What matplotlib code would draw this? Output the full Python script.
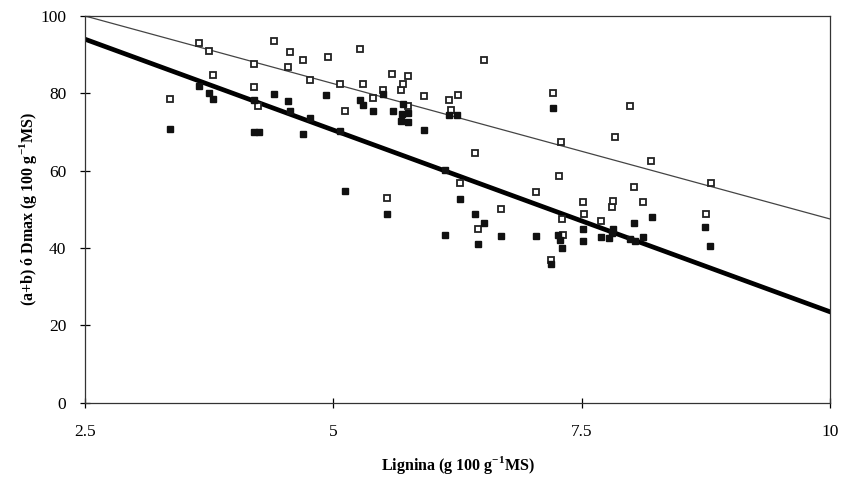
import matplotlib
matplotlib.use("Agg")
import matplotlib.pyplot as plt
import numpy as np

plt.rcParams['font.family'] = ['Liberation Serif', 'DejaVu Serif']

# Open squares: (a+b)
open_x = [3.36, 3.65, 3.75, 3.79, 4.20, 4.20, 4.24, 4.40, 4.54, 4.56, 4.69, 4.76,
          4.95, 5.07, 5.12, 5.27, 5.30, 5.40, 5.50, 5.59, 5.68, 5.70, 5.75, 5.75,
          5.91, 6.16, 6.18, 6.25, 6.42, 6.52, 6.27, 5.54, 6.46, 6.69, 7.04, 7.19,
          7.21, 7.27, 7.29, 7.30, 7.31, 7.51, 7.52, 7.69, 7.80, 7.81, 7.83, 7.98,
          8.02, 8.12, 8.20, 8.75, 8.80]
open_y = [78.6, 93.0, 90.9, 84.8, 87.5, 81.7, 76.7, 93.5, 86.9, 90.6, 88.6, 83.4,
          89.5, 82.4, 75.5, 91.5, 82.4, 78.7, 80.9, 84.9, 80.8, 82.3, 84.5, 76.7,
          79.3, 78.4, 75.7, 79.6, 64.6, 88.5, 56.8, 53.0, 44.8, 50.0, 54.6, 36.8,
          80.0, 58.5, 67.3, 47.6, 43.4, 51.8, 48.8, 47.1, 50.6, 52.1, 68.7, 76.8,
          55.7, 52.0, 62.5, 48.8, 56.7]

# Filled squares: Dmax
fill_x = [3.36, 3.65, 3.75, 3.79, 4.20, 4.20, 4.25, 4.40, 4.54, 4.56, 4.69, 4.76,
          4.93, 5.07, 5.12, 5.27, 5.30, 5.40, 5.50, 5.54, 5.60, 5.70, 5.69, 5.75,
          5.68, 5.75, 5.91, 6.12, 6.12, 6.16, 6.24, 6.27, 6.42, 6.46, 6.52, 6.69,
          7.04, 7.19, 7.21, 7.26, 7.28, 7.30, 7.51, 7.51, 7.69, 7.77, 7.80, 7.81,
          8.02, 7.98, 8.03, 8.12, 8.21, 8.74, 8.79]
fill_y = [70.9, 81.9, 80.2, 78.6, 78.4, 69.9, 69.9, 79.8, 77.9, 75.5, 69.6, 73.6,
          79.6, 70.2, 54.7, 78.4, 76.9, 75.5, 79.9, 48.8, 75.5, 77.3, 74.6, 74.8,
          72.8, 72.5, 70.4, 60.2, 43.3, 74.3, 74.4, 52.6, 48.8, 41.1, 46.4, 43.2,
          43.2, 36.0, 76.2, 43.4, 42.0, 40.1, 45.0, 41.8, 42.9, 42.6, 43.8, 45.0,
          46.6, 42.3, 41.9, 42.8, 48.0, 45.5, 40.6]

# Regression lines (intercept, slope)
thin_line = (117.5, -7.0)
thick_line = (117.5, -9.4)

x_ticks = [2.5, 5, 7.5, 10]
x_ticklabels = ["2.5", "5", "7.5", "10"]
y_ticks = [0, 20, 40, 60, 80, 100]

fig = plt.figure(figsize=(8.49, 4.83), dpi=100)
ax = fig.add_axes([0.1, 0.166, 0.878, 0.801])

xl = np.array([2.5, 10])
ax.plot(xl, thin_line[0] + thin_line[1] * xl, color='#444444', lw=0.9, zorder=2)
ax.plot(xl, thick_line[0] + thick_line[1] * xl, color='black', lw=3.4, zorder=2)

ax.plot(open_x, open_y, linestyle='none', marker='s', markersize=4.8,
        markerfacecolor='white', markeredgecolor='#222222', markeredgewidth=1.3, zorder=3)
ax.plot(fill_x, fill_y, linestyle='none', marker='s', markersize=4.8,
        markerfacecolor='#111111', markeredgecolor='#111111', zorder=4)

ax.set_xlim(2.5, 10)
ax.set_ylim(0, 100)
ax.set_xticks(x_ticks)
ax.set_xticklabels(x_ticklabels)
ax.set_yticks(y_ticks)
ax.tick_params(direction='inout', length=7, width=0.9, labelsize=12.5)
ax.tick_params(axis='x', pad=12)
ax.tick_params(axis='y', pad=10)
for s in ax.spines.values():
    s.set_linewidth(0.9)
    s.set_color('#333333')

ax.set_xlabel("Lignina (g 100 g$^{\\mathregular{-1}}$MS)", fontsize=11.5, fontweight='bold', labelpad=10)
ax.set_ylabel("(a+b) ó Dmax (g 100 g$^{\\mathregular{-1}}$MS)", fontsize=11.5, fontweight='bold', labelpad=1)

fig.savefig("out.png", dpi=100)
